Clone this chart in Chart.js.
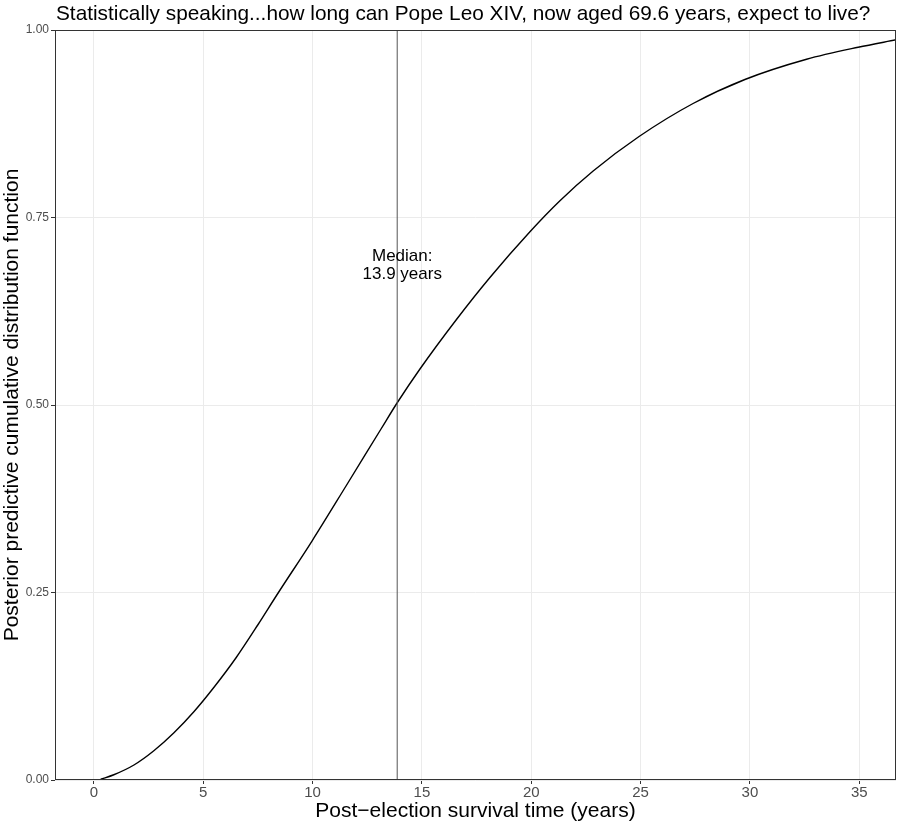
<!DOCTYPE html>
<html>
<head>
<meta charset="utf-8">
<title>Pope Leo XIV survival</title>
<script src="https://cdn.jsdelivr.net/npm/chart.js@4/dist/chart.umd.min.js"></script>
<style>
  html, body { margin: 0; padding: 0; background: #fff; }
  #wrap { width: 897px; height: 822px; position: relative; }
</style>
</head>
<body>
<div id="wrap"><canvas id="cdfChart"></canvas></div>
<script>
// values
const survivalYears = [0.31, 0.91, 1.83, 2.74, 3.66, 4.57, 5.5, 6.5, 7.5, 8.35, 9.98, 11.55, 13.15, 13.87, 14.91, 16.58, 18.11, 19.94, 21.3, 22.83, 24.93, 27.4, 29.77, 32.59, 34.95, 36.7];
const cdfValues = [0.001, 0.007, 0.020, 0.039, 0.063, 0.091, 0.124, 0.163, 0.207, 0.246, 0.319, 0.393, 0.469, 0.503, 0.548, 0.614, 0.670, 0.731, 0.772, 0.812, 0.858, 0.902, 0.934, 0.961, 0.977, 0.987];
const medianYears = 13.87;
const medianLabel = ["Median:", "13.9 years"];
const xTicks = [0, 5, 10, 15, 20, 25, 30, 35];
const yTicks = [0, 0.25, 0.5, 0.75, 1];

const titleText = "Statistically speaking...how long can Pope Leo XIV, now aged 69.6 years, expect to live?";
const FONT = "'Liberation Sans', Arial, sans-serif";

// title, panel border and the median text
const extras = {
  id: "extras",
  afterDraw(chart) {
    const ctx = chart.ctx;
    const area = chart.chartArea;
    const xs = chart.scales.x;
    const ys = chart.scales.y;
    ctx.save();
    ctx.strokeStyle = "#333333";
    ctx.lineWidth = 1;
    ctx.strokeRect(area.left + 0.5, area.top + 0.5, area.right - area.left - 1, area.bottom - area.top - 1);

    ctx.fillStyle = "#000";
    ctx.font = "20.8px " + FONT;
    ctx.textAlign = "left";
    ctx.textBaseline = "middle";
    ctx.fillText(titleText, area.left + 1, 14);

    ctx.font = "17px " + FONT;
    ctx.textAlign = "center";
    const cx = xs.getPixelForValue(14.1);
    const cy = ys.getPixelForValue(0.688);
    ctx.fillText(medianLabel[0], cx, cy - 8);
    ctx.fillText(medianLabel[1], cx, cy + 10);
    ctx.restore();
  }
};

const fixTicks = (list) => (scale) => {
  scale.ticks = list.map((v) => ({ value: v }));
};

new Chart(document.getElementById("cdfChart"), {
  type: "scatter",
  data: {
    datasets: [
      {
        label: "median",
        data: [{ x: medianYears, y: 0 }, { x: medianYears, y: 1 }],
        showLine: true,
        borderColor: "#555555",
        borderWidth: 1,
        pointRadius: 0,
      },
      {
        label: "CDF",
        data: survivalYears.map((t, i) => ({ x: t, y: cdfValues[i] })),
        showLine: true,
        borderColor: "#000",
        borderWidth: 1.4,
        pointRadius: 0,
        cubicInterpolationMode: "monotone",
      },
    ],
  },
  options: {
    responsive: true,
    maintainAspectRatio: false,
    animation: false,
    layout: { padding: { top: 30, right: 1, left: 0, bottom: 0 } },
    plugins: {
      legend: { display: false },
      tooltip: { enabled: false },
    },
    scales: {
      x: {
        type: "linear",
        min: -1.78,
        max: 36.68,
        afterBuildTicks: fixTicks(xTicks),
        afterFit: (s) => { s.height = 42; },
        grid: { color: "#ebebeb", tickColor: "#333333", tickLength: 4 },
        border: { display: false },
        ticks: {
          color: "#4d4d4d",
          font: { family: FONT, size: 15 },
          padding: 0,
          maxRotation: 0,
        },
        title: {
          display: true,
          text: "Post\u2212election survival time (years)",
          color: "#000",
          font: { family: FONT, size: 21 },
          padding: { top: 0, bottom: -2 },
        },
      },
      y: {
        type: "linear",
        min: 0,
        max: 1,
        afterBuildTicks: fixTicks(yTicks),
        afterFit: (s) => { s.width = 55; },
        grid: { color: "#ebebeb", tickColor: "#333333", tickLength: 4 },
        border: { display: false },
        ticks: {
          color: "#4d4d4d",
          font: { family: FONT, size: 12 },
          padding: 2,
          callback: (v) => v.toFixed(2),
        },
        title: {
          display: true,
          text: "Posterior predictive cumulative distribution function",
          color: "#000",
          font: { family: FONT, size: 21 },
          padding: 0,
        },
      },
    },
  },
  plugins: [extras],
});
</script>
</body>
</html>
